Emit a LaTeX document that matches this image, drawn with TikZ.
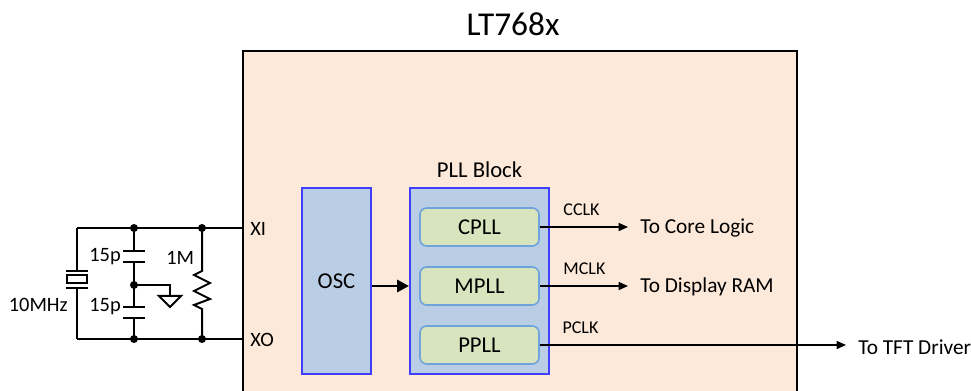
\documentclass[tikz,border=0pt]{standalone}
\usepackage{fontspec}
\setmainfont{Carlito}
\usetikzlibrary{positioning,arrows.meta}
\definecolor{chipfill}{HTML}{FDE9D9}
\definecolor{blkfill}{HTML}{B9CDE5}
\definecolor{blkline}{HTML}{3F3FFF}
\definecolor{subfill}{HTML}{D7E4BD}
\definecolor{subline}{HTML}{6FA3DC}
\tikzset{
  wire/.style={line width=1.5pt},
  clk/.style={line width=1.1pt,-{Triangle[length=7pt,width=6pt]}},
  blk/.style={draw=blkline,fill=blkfill,line width=1.4pt,inner sep=0pt,minimum height=139.5pt,font=\fontsize{17}{20}\selectfont},
  subpll/.style={draw=subline,fill=subfill,line width=1.2pt,rounded corners=5pt,inner sep=0pt,minimum width=89.25pt,minimum height=28.5pt,font=\fontsize{17}{20}\selectfont},
  lbl/.style={inner sep=0pt,font=\fontsize{13.5}{16}\selectfont},
  part/.style={inner sep=0pt,font=\fontsize{15.3}{18}\selectfont},
  dest/.style={inner sep=0pt,font=\fontsize{16}{19}\selectfont},
  dot/.style={circle,fill,inner sep=0pt,minimum size=6pt}
}
\begin{document}
\begin{tikzpicture}[x=0.75pt,y=-0.75pt]
    \clip (0,0) rectangle (971,391);
    \node[draw,fill=chipfill,line width=1.5pt,anchor=north west,minimum width=415.5pt,minimum height=270pt] (chip) at (242,50) {};
    \node[inner sep=0pt,font=\fontsize{25}{30}\selectfont] (title) at (513,24) {LT768x};

    \node[blk,minimum width=51.75pt] (osc) at (336.5,281) {OSC};
    \node[blk,minimum width=104.25pt] (pll) at (479.5,281) {};
    \node[above=7pt of pll,inner sep=0pt,font=\fontsize{17}{20}\selectfont] (plltitle) {PLL Block};
    \node[subpll] (cpll) at (479.5,227) {CPLL};
    \node[subpll] (mpll) at (479.5,286) {MPLL};
    \node[subpll] (ppll) at (479.5,345) {PPLL};
    \draw[line width=2.2pt,-{Triangle[length=9pt,width=9pt]}] (osc.east |- mpll) -- (pll.west |- mpll);

    \node[dest,anchor=west] (core) at (640,228) {To Core Logic};
    \node[dest,anchor=west] (ram) at (640,287) {To Display RAM};
    \node[dest,anchor=west] (tft) at (858,347) {To TFT Driver};
    \draw[clk] (cpll.east) -- ([xshift=-9pt]core.west |- cpll.east) node[lbl,anchor=west,pos=0.26,yshift=13pt] {CCLK};
    \draw[clk] (mpll.east) -- ([xshift=-9pt]ram.west |- mpll.east) node[lbl,anchor=west,pos=0.26,yshift=13pt] {MCLK};
    \draw[clk] (ppll.east) -- ([xshift=-9pt]tft.west |- ppll.east) node[lbl,anchor=west,pos=0.072,yshift=13pt] {PCLK};

    \node[part,anchor=west] (xi) at (250,229) {XI};
    \node[part,anchor=west] (xo) at (250,340) {XO};
    \coordinate (xtop) at (77,228);
    \coordinate (xbot) at (77,339);
    \coordinate (ctop) at (134,228);
    \coordinate (cmid) at (134,285);
    \coordinate (cbot) at (134,339);
    \coordinate (rtop) at (202,228);
    \coordinate (rbot) at (202,339);
    \coordinate (gnd) at (170,296);
    \draw[wire] (xtop) -- (chip.west |- xtop);
    \draw[wire] (xbot) -- (chip.west |- xbot);
    \draw[wire] (xtop) -- (77,271) (66,271) -- (88,271) (66,288) -- (88,288) (77,288) -- (xbot);
    \draw[wire] (67,275) rectangle (87,283);
    \draw[wire] (ctop) -- (134,251) (123,251) -- (145,251) (123,262) -- (145,262) (134,262) -- (cmid)
        -- (134,307) (123,307) -- (145,307) (123,318) -- (145,318) (134,318) -- (cbot);
    \draw[wire] (cmid) -- (cmid -| gnd) -- (gnd);
    \draw[wire,line join=miter] (159,296) -- (181,296) -- (170,307) -- cycle;
    \draw[wire,line join=miter] (rtop) -- (202,271) -- (194,275) -- (210,283) -- (194,291) -- (210,299) -- (194,305) -- (202,309) -- (rbot);
    \foreach \p in {ctop,cmid,cbot,rtop,rbot} \node[dot] at (\p) {};
    \node[part,anchor=east] (c1) at (121,257) {15p};
    \node[part,anchor=east] (c2) at (121,307) {15p};
    \node[part,anchor=west] (r1) at (166,258) {1M};
    \node[part,anchor=east] (x1) at (68,305) {10MHz};
\end{tikzpicture}
\end{document}
